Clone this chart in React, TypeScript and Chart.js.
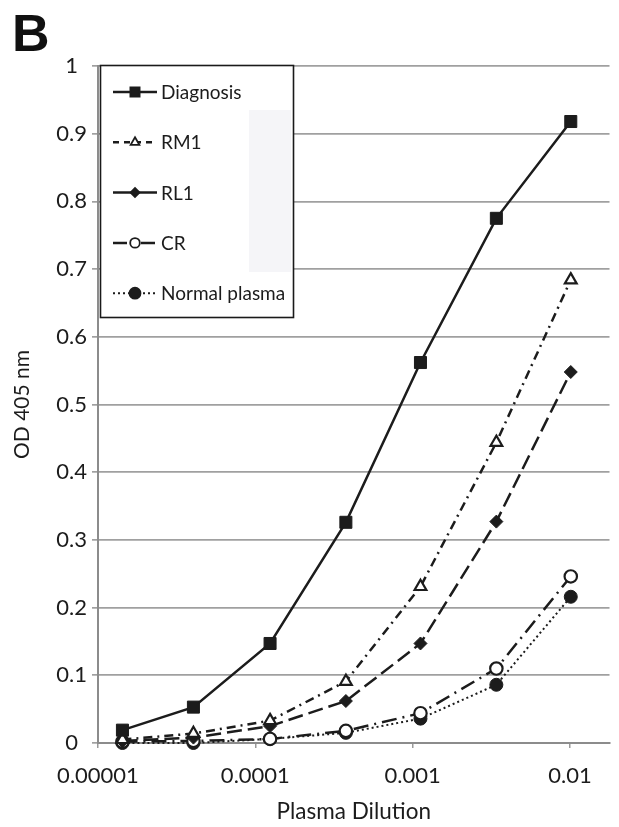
import React, { useEffect, useRef } from 'react';
import { Chart, registerables } from 'chart.js';
import { drawPoint } from 'chart.js/helpers';

Chart.register(...registerables);

// ---- data ----
const dilutions = [0.0000143, 0.0000404, 0.000124, 0.000376, 0.00112, 0.0034, 0.0101];
const diagnosis = [0.019, 0.053, 0.147, 0.326, 0.562, 0.775, 0.918];
const rm1 = [0.005, 0.014, 0.033, 0.091, 0.231, 0.444, 0.684];
const rl1 = [0.003, 0.008, 0.025, 0.062, 0.147, 0.327, 0.548];
const cr = [0.002, 0.003, 0.006, 0.018, 0.044, 0.11, 0.246];
const normalPlasma = [0.0, 0.0, 0.006, 0.015, 0.036, 0.086, 0.216];
const seriesNames = ['Diagnosis', 'RM1', 'RL1', 'CR', 'Normal plasma'];
const xTickValues = [0.00001, 0.0001, 0.001, 0.01];
const xTickLabels = ['0.00001', '0.0001', '0.001', '0.01'];
const yTickLabels = ['0', '0.1', '0.2', '0.3', '0.4', '0.5', '0.6', '0.7', '0.8', '0.9', '1'];
const xTitle = 'Plasma Dilution';
const yTitle = 'OD 405 nm';
const panelLetter = 'B';

const FONT = 'Lato, "Open Sans", sans-serif';
const INK = '#1c1c1c';

const seriesStyles = [
  { values: diagnosis, pointStyle: 'rect', radius: 8.5, fill: INK, dash: [] as number[], legendDash: [] as number[], width: 2.5, legendRadius: 6.5 },
  { values: rm1, pointStyle: 'triangle', radius: 6.8, fill: '#ffffff', dash: [9, 5, 2, 5], legendDash: [6, 5], width: 2.5, legendRadius: 5 },
  { values: rl1, pointStyle: 'rectRot', radius: 6.5, fill: INK, dash: [15, 6], legendDash: [], width: 2.5, legendRadius: 4.5 },
  { values: cr, pointStyle: 'circle', radius: 6.2, fill: '#ffffff', dash: [15, 6, 2, 6], legendDash: [14, 6, 2, 6], width: 2.5, legendRadius: 4.8 },
  { values: normalPlasma, pointStyle: 'circle', radius: 6.5, fill: INK, dash: [2, 3], legendDash: [2, 3], width: 2, legendRadius: 5.5 },
];

const decorPlugin = {
  id: 'decor',
  afterDraw(chart: any) {
    const ctx = chart.ctx as CanvasRenderingContext2D;
    const area = chart.chartArea;
    ctx.save();
    // panel letter
    ctx.fillStyle = '#111';
    ctx.font = 'bold 52px "Liberation Sans", Arial, sans-serif';
    ctx.textAlign = 'left';
    ctx.textBaseline = 'alphabetic';
    ctx.fillText(panelLetter, 12, 51);

    // legend box
    const bx = area.left + 2;
    const by = area.top - 1;
    const bw = 193;
    const bh = 252;
    ctx.fillStyle = '#ffffff';
    ctx.fillRect(bx, by, bw, bh);
    ctx.fillStyle = '#f5f5f8';
    ctx.fillRect(bx + 149, by + 45, 42, 162);
    ctx.strokeStyle = '#1a1a1a';
    ctx.lineWidth = 1.6;
    ctx.strokeRect(bx + 0.5, by + 0.5, bw, bh);

    const ds = chart.data.datasets;
    ds.forEach((d: any, i: number) => {
      const st = seriesStyles[i];
      const y = by + 27 + i * 50.3;
      const x0 = bx + 13;
      const x1 = bx + 57;
      const cx = bx + 35;
      ctx.save();
      ctx.strokeStyle = INK;
      ctx.lineWidth = st.width;
      ctx.setLineDash(st.legendDash);
      ctx.beginPath();
      ctx.moveTo(x0, y);
      ctx.lineTo(x1, y);
      ctx.stroke();
      ctx.restore();
      ctx.save();
      ctx.setLineDash([]);
      ctx.strokeStyle = INK;
      ctx.fillStyle = st.fill;
      ctx.lineWidth = 1.8;
      drawPoint(ctx, { pointStyle: st.pointStyle as any, radius: st.legendRadius, rotation: 0, borderWidth: 1.8 } as any, cx, y);
      ctx.restore();
      ctx.fillStyle = INK;
      ctx.font = `19px ${FONT}`;
      ctx.textAlign = 'left';
      ctx.textBaseline = 'middle';
      ctx.fillText(d.label, bx + 61, y + 1);
    });
    ctx.restore();
  },
};

export default function App() {
  const ref = useRef<HTMLCanvasElement | null>(null);

  useEffect(() => {
    if (!ref.current) return;
    const datasets = seriesStyles.map((st, i) => ({
      label: seriesNames[i],
      data: dilutions.map((x, j) => ({ x, y: st.values[j] })),
      borderColor: INK,
      backgroundColor: st.fill,
      borderWidth: st.width,
      borderDash: st.dash,
      pointStyle: st.pointStyle as any,
      pointRadius: st.radius,
      pointBackgroundColor: st.fill,
      pointBorderColor: INK,
      pointBorderWidth: st.fill === '#ffffff' ? 2.2 : 1,
      tension: 0,
      fill: false,
      clip: false as any,
    }));

    const chart = new Chart(ref.current, {
      type: 'line',
      data: { datasets },
      plugins: [decorPlugin],
      options: {
        animation: false,
        responsive: false,
        maintainAspectRatio: false,
        events: [],
        layout: { padding: { top: 66, right: 1, left: 0, bottom: 0 } },
        plugins: { legend: { display: false }, tooltip: { enabled: false }, title: { display: false } },
        scales: {
          x: {
            type: 'logarithmic',
            min: 0.00001,
            max: 0.0178,
            afterBuildTicks: (scale: any) => {
              scale.ticks = xTickValues.map((v) => ({ value: v }));
            },
            afterFit: (scale: any) => {
              scale.height = 84;
            },
            ticks: {
              autoSkip: false,
              maxRotation: 0,
              padding: 15,
              color: INK,
              font: { family: FONT, size: 22 },
              callback: (_v: any, i: number) => xTickLabels[i],
            },
            grid: { drawOnChartArea: false, drawTicks: true, tickLength: 5, color: '#9a9a9a', lineWidth: 1.5 },
            border: { display: true, color: '#8c8c8c', width: 2 },
            title: {
              display: true,
              text: xTitle,
              color: INK,
              font: { family: FONT, size: 22.5 },
              padding: { top: 0, bottom: 2 },
            },
          },
          y: {
            type: 'linear',
            min: 0,
            max: 1,
            afterFit: (scale: any) => {
              scale.width = 98;
            },
            ticks: {
              stepSize: 0.1,
              padding: 5,
              crossAlign: 'center',
              color: INK,
              font: { family: FONT, size: 22 },
              callback: (_v: any, i: number) => yTickLabels[i],
            },
            grid: { color: '#a0a0a0', lineWidth: 1.7, tickLength: 6, drawTicks: true },
            border: { display: true, color: '#8c8c8c', width: 2 },
            title: {
              display: true,
              text: yTitle,
              color: INK,
              font: { family: FONT, size: 21 },
              padding: { top: 10, bottom: 0 },
            },
          },
        },
      } as any,
    });
    return () => chart.destroy();
  }, []);

  return (
    <div style={{ position: 'absolute', left: 0, top: 0, width: 619, height: 827, background: '#fff' }}>
      <canvas ref={ref} width={619} height={827} style={{ display: 'block' }} />
    </div>
  );
}
